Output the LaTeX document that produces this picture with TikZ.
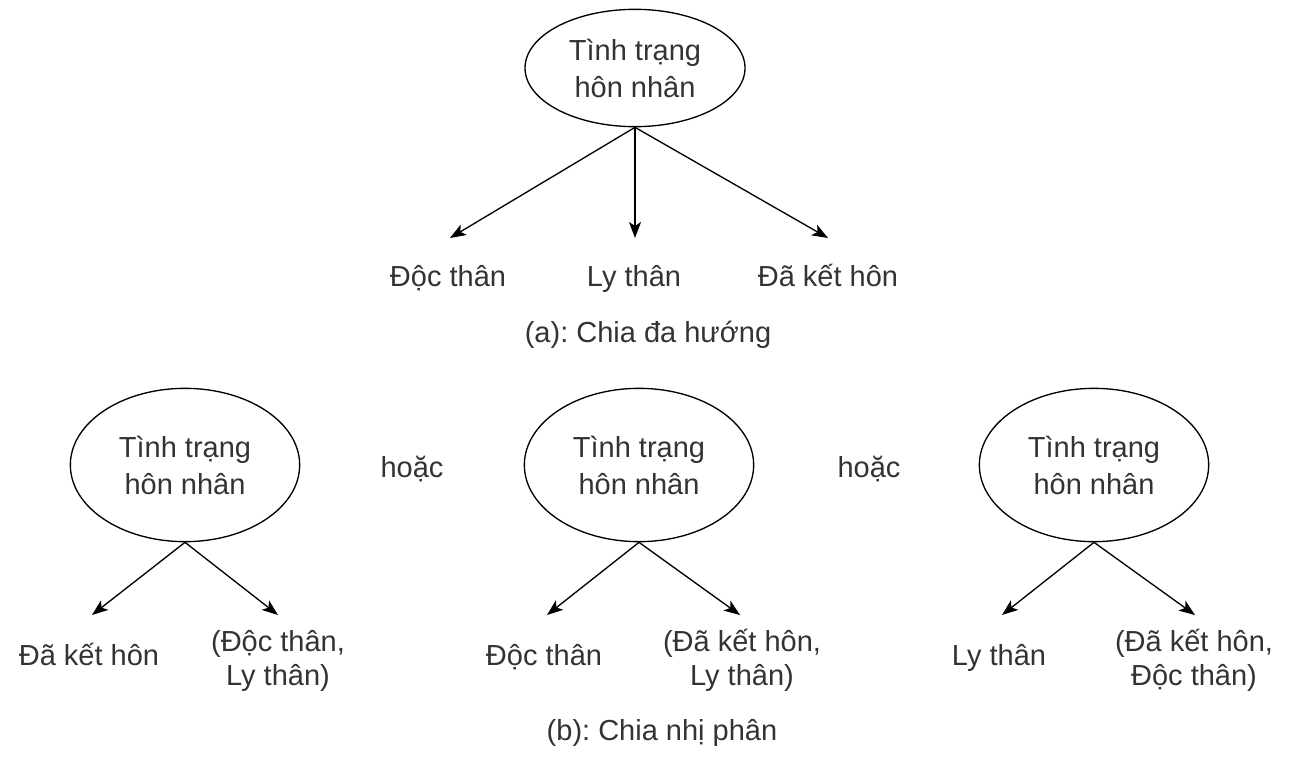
\documentclass[tikz,border=0pt]{standalone}
\usepackage{fontspec}
\setmainfont{Liberation Sans}
\usetikzlibrary{arrows.meta,shapes.geometric}
\definecolor{txt}{HTML}{333333}
\frenchspacing
\begin{document}
\begin{tikzpicture}[x=0.75pt,y=-0.75pt,
  every node/.style={text=txt,font=\fontsize{21.75}{27.75}\selectfont,inner sep=0pt,align=center},
  lbl/.style={anchor=base,font=\fontsize{21.75}{25.5}\selectfont},
  ell/.style={draw=black,line width=1pt,ellipse,minimum width=#1},
  arr/.style={draw=black,line width=1pt,-{Stealth[length=12pt,width=9pt,inset=3pt]}}]
\useasboundingbox (0,0) rectangle (1294,756);
% (a)
\node[ell=165pt,minimum height=88pt] (t) at (635,68) {Tình trạng\\hôn nhân};
\coordinate (ta) at (450,238);
\coordinate (tb) at (635,238);
\coordinate (tc) at (828,238);
\node[lbl] (la) at (448,286) {Độc thân};
\node[lbl] (lb) at (634,286) {Ly thân};
\node[lbl] (lc) at (828,286) {Đã kết hôn};
\node[lbl] (capa) at (648,342) {(a): Chia đa hướng};
\draw[arr] (t.south) -- (ta);
\draw[arr] (t.south) -- (tb);
\draw[arr] (t.south) -- (tc);
% (b)
\node[ell=172pt,minimum height=115pt] (e1) at (185,465) {Tình trạng\\hôn nhân};
\node[ell=172pt,minimum height=115pt] (e2) at (639,465) {Tình trạng\\hôn nhân};
\node[ell=172pt,minimum height=115pt] (e3) at (1094,465) {Tình trạng\\hôn nhân};
\node[lbl] (or1) at (412,477) {hoặc};
\node[lbl] (or2) at (869,477) {hoặc};
\coordinate (a1) at (92,615);
\coordinate (b1) at (278,615);
\coordinate (a2) at (547,615);
\coordinate (b2) at (740,615);
\coordinate (a3) at (1002,615);
\coordinate (b3) at (1195,615);
\draw[arr] (e1.south) -- (a1);
\draw[arr] (e1.south) -- (b1);
\draw[arr] (e2.south) -- (a2);
\draw[arr] (e2.south) -- (b2);
\draw[arr] (e3.south) -- (a3);
\draw[arr] (e3.south) -- (b3);
\node[lbl] (l1) at (89,665) {Đã kết hôn};
\node[lbl] (r1) at (278,685) {(Độc thân,\\Ly thân)};
\node[lbl] (l2) at (544,665) {Độc thân};
\node[lbl] (r2) at (742,685) {(Đã kết hôn,\\Ly thân)};
\node[lbl] (l3) at (999,665) {Ly thân};
\node[lbl] (r3) at (1194,685) {(Đã kết hôn,\\Độc thân)};
\node[lbl] (capb) at (662,740) {(b): Chia nhị phân};
\end{tikzpicture}
\end{document}
